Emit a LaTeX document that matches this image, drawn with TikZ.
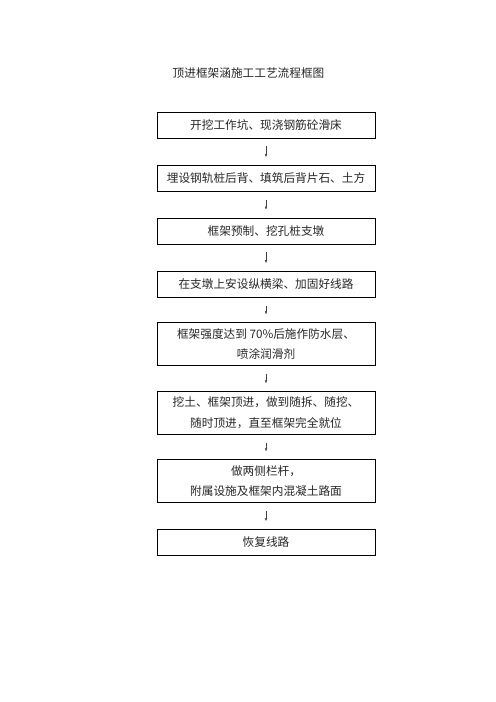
\documentclass[tikz,border=0pt]{standalone}
\usepackage{fontspec}
\setmainfont{Noto Sans CJK SC}
\usetikzlibrary{arrows.meta}

\begin{document}
\begin{tikzpicture}[x=1.2pt,y=-1.2pt,
    font=\fontsize{14pt}{25pt}\selectfont,
    stepbox/.style={draw,line width=1.1pt,minimum width=261.6pt,minimum height=31.2pt,align=center,inner sep=2pt,text=black!85},
    tallbox/.style={stepbox,minimum height=51pt},
    flow/.style={line width=0.5pt,black!75,-{Latex[length=3.5pt,width=3pt]},shorten >=9.5pt,shorten <=9.5pt}]
    \useasboundingbox (0,0) rectangle (496,702);
    \node[text=black!85] (title) at (248.5,73) {顶进框架涵施工工艺流程框图};
    \node[stepbox] (s1) at (266,125) {开挖工作坑、现浇钢筋砼滑床};
    \node[stepbox] (s2) at (266,178.5) {埋设钢轨桩后背、填筑后背片石、土方};
    \node[stepbox] (s3) at (266,231) {框架预制、挖孔桩支墩};
    \node[stepbox] (s4) at (266,284.5) {在支墩上安设纵横梁、加固好线路};
    \node[tallbox] (s5) at (266,344) {框架强度达到 70\%后施作防水层、\\喷涂润滑剂};
    \node[tallbox] (s6) at (266,413) {挖土、框架顶进，做到随拆、随挖、\\随时顶进，直至框架完全就位};
    \node[tallbox] (s7) at (266,481) {做两侧栏杆，\\附属设施及框架内混凝土路面};
    \node[stepbox] (s8) at (266,542.5) {恢复线路};
    \draw[flow] (s1)--(s2);
    \draw[flow] (s2)--(s3);
    \draw[flow] (s3)--(s4);
    \draw[flow] (s4)--(s5);
    \draw[flow] (s5)--(s6);
    \draw[flow] (s6)--(s7);
    \draw[flow] (s7)--(s8);
  \end{tikzpicture}
\end{document}
